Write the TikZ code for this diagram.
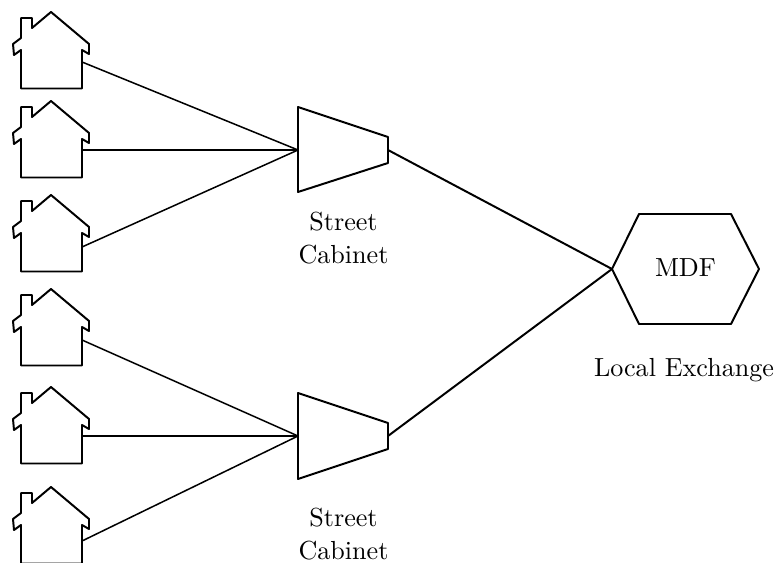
\documentclass[tikz,border=0pt]{standalone}
\tikzset{
  x=0.3636pt,y=-0.3636pt,
  outline/.style={draw=black,line width=0.72pt,line join=round},
  link/.style={draw=black,line width=0.55pt},
  trunk/.style={draw=black,line width=0.72pt},
  lbl/.style={inner sep=0pt,align=center,font=\fontsize{9.5}{12}\selectfont},
  house/.pic={
    \draw[outline] (0,0) -- (38,32) -- (38,42) -- (31,38) -- (31,76.5) -- (-30,76.5) -- (-30,38) -- (-37,43) -- (-38,32) -- (-30,26) -- (-30,6) -- (-19,6) -- (-19,16) -- cycle;
  }
}
\begin{document}
\begin{tikzpicture}
\useasboundingbox (0,0) rectangle (781,563);
\begin{scope}
\clip (0,0) rectangle (781,563);
\pic at (51,12) {house};
\pic at (51,101) {house};
\pic at (51,195) {house};
\pic at (51,289) {house};
\pic at (51,387) {house};
\pic at (51,487) {house};
\end{scope}
\coordinate (h1) at (82,62);
\coordinate (h2) at (82,150);
\coordinate (h3) at (82,247);
\coordinate (h4) at (82,340);
\coordinate (h5) at (82,436);
\coordinate (h6) at (82,541);
\coordinate (c1in) at (298,150);
\coordinate (c1out) at (388,150);
\coordinate (c2in) at (298,436);
\coordinate (c2out) at (388,436);
\coordinate (mdfin) at (612,269);
\draw[outline] (298,107) -- (388,137) -- (388,163) -- (298,192) -- cycle;
\draw[outline] (298,393) -- (388,423) -- (388,449) -- (298,479) -- cycle;
\draw[outline] (mdfin) -- (639,214) -- (731,214) -- (759,269) -- (731,324) -- (639,324) -- cycle;
\node[lbl] (mdf) at (685.5,268) {MDF};
\node[lbl,anchor=base] (local) at (684,377) {Local Exchange};
\node[lbl] (sc1) at (343.5,238) {Street\\Cabinet};
\node[lbl] (sc2) at (343.5,534.5) {Street\\Cabinet};
\draw[link] (h1) -- (c1in);
\draw[link] (h2) -- (c1in);
\draw[link] (h3) -- (c1in);
\draw[link] (h4) -- (c2in);
\draw[link] (h5) -- (c2in);
\draw[link] (h6) -- (c2in);
\draw[trunk] (c1out) -- (mdfin);
\draw[trunk] (c2out) -- (mdfin);
\end{tikzpicture}
\end{document}
